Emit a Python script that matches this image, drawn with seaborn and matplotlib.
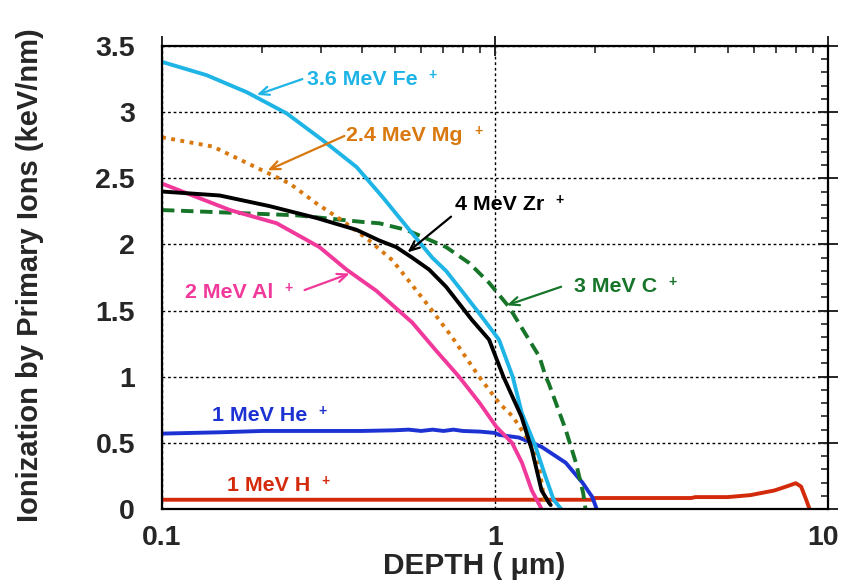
import matplotlib
matplotlib.use("Agg")
import matplotlib.pyplot as plt
from matplotlib.ticker import FixedLocator, FixedFormatter, MultipleLocator, LogLocator, NullFormatter
from matplotlib.transforms import ScaledTranslation
import seaborn as sns
import pandas as pd

# Ionization profiles (keV/nm) vs depth (um) for each primary ion
fe_depth = [0.1, 0.136, 0.18, 0.237, 0.303, 0.384, 0.459, 0.553, 0.648, 0.713, 0.80, 0.896, 1.028, 1.13, 1.204, 1.32, 1.42, 1.50, 1.58]
fe_ion = [3.38, 3.28, 3.15, 2.99, 2.79, 2.585, 2.36, 2.11, 1.90, 1.80, 1.64, 1.48, 1.28, 1.0, 0.725, 0.48, 0.24, 0.07, 0.0]

mg_depth = [0.1, 0.142, 0.2, 0.242, 0.291, 0.348, 0.419, 0.492, 0.541, 0.634, 0.743, 0.896, 1.03, 1.13, 1.26, 1.35, 1.40, 1.42]
mg_ion = [2.81, 2.74, 2.56, 2.46, 2.31, 2.18, 2.03, 1.88, 1.75, 1.53, 1.30, 1.0, 0.80, 0.70, 0.52, 0.35, 0.10, 0.02]

zr_depth = [0.1, 0.149, 0.21, 0.291, 0.384, 0.449, 0.505, 0.564, 0.634, 0.713, 0.852, 0.96, 1.06, 1.20, 1.29, 1.38, 1.45, 1.47]
zr_ion = [2.40, 2.37, 2.29, 2.20, 2.11, 2.03, 1.98, 1.90, 1.81, 1.68, 1.43, 1.28, 1.0, 0.70, 0.45, 0.14, 0.05, 0.03]

c_depth = [0.1, 0.16, 0.254, 0.40, 0.449, 0.541, 0.59, 0.713, 0.836, 0.96, 1.10, 1.23, 1.36, 1.42, 1.45, 1.63, 1.75, 1.84, 1.87]
c_ion = [2.26, 2.24, 2.22, 2.17, 2.16, 2.11, 2.07, 1.98, 1.86, 1.71, 1.53, 1.33, 1.15, 1.0, 0.95, 0.60, 0.35, 0.12, 0.0]

al_depth = [0.1, 0.16, 0.221, 0.297, 0.358, 0.44, 0.564, 0.664, 0.78, 0.90, 1.01, 1.125, 1.205, 1.29, 1.38]
al_ion = [2.46, 2.26, 2.16, 1.98, 1.81, 1.65, 1.41, 1.20, 1.0, 0.80, 0.62, 0.50, 0.35, 0.14, 0.0]

he_depth = [0.1, 0.15, 0.2, 0.3, 0.4, 0.5, 0.55, 0.6, 0.65, 0.7, 0.75, 0.8, 0.9, 1.0, 1.03, 1.18, 1.38, 1.63, 1.83, 1.96, 2.02]
he_ion = [0.57, 0.58, 0.59, 0.59, 0.59, 0.595, 0.60, 0.59, 0.60, 0.59, 0.60, 0.59, 0.585, 0.575, 0.56, 0.54, 0.47, 0.35, 0.20, 0.09, 0.0]

h_depth = [0.1, 0.5, 1.0, 1.5, 1.96, 2.0, 3.0, 3.88, 4.0, 5.0, 5.85, 6.9, 7.6, 8.0, 8.3, 8.6, 8.8]
h_ion = [0.07, 0.07, 0.07, 0.07, 0.07, 0.083, 0.083, 0.083, 0.09, 0.09, 0.105, 0.14, 0.175, 0.195, 0.17, 0.07, 0.0]

x_ticks = [0.1, 1, 10]
x_tick_labels = ["0.1", "1", "10"]
y_ticks = [0, 0.5, 1, 1.5, 2, 2.5, 3, 3.5]
y_tick_labels = ["0", "0.5", "1", "1.5", "2", "2.5", "3", "3.5"]

sns.set_style("white")
plt.rcParams["font.family"] = ["Liberation Sans", "DejaVu Sans"]
plt.rcParams["font.weight"] = "bold"

CYAN = "#1fb4e6"
ORANGE = "#d9780f"
BLACK = "#000000"
GREEN = "#17752a"
PINK = "#f0399a"
BLUE = "#1c32d2"
RED = "#d42a0c"

fig = plt.figure(figsize=(8.42, 5.83), dpi=100)
ax = fig.add_axes([162 / 842, 1 - 509 / 583, (828 - 162) / 842, (509 - 46) / 583])

series = [
    (h_depth, h_ion, RED, "-"),
    (he_depth, he_ion, BLUE, "-"),
    (c_depth, c_ion, GREEN, (0, (3.2, 1.7))),
    (al_depth, al_ion, PINK, "-"),
    (mg_depth, mg_ion, ORANGE, (0, (1, 1.4))),
    (fe_depth, fe_ion, CYAN, "-"),
    (zr_depth, zr_ion, BLACK, "-"),
]
for xs, ys, col, ls in series:
    df = pd.DataFrame({"depth": xs, "ion": ys})
    sns.lineplot(data=df, x="depth", y="ion", ax=ax, color=col, linestyle=ls,
                 linewidth=2.8, estimator=None, sort=False, dash_capstyle="butt")

ax.set_xscale("log")
ax.set_xlim(0.1, 10)
ax.set_ylim(0, 3.5)
ax.xaxis.set_major_locator(FixedLocator(x_ticks))
ax.xaxis.set_major_formatter(FixedFormatter(x_tick_labels))
ax.xaxis.set_minor_locator(LogLocator(base=10, subs=range(2, 10)))
ax.xaxis.set_minor_formatter(NullFormatter())
ax.yaxis.set_major_locator(FixedLocator(y_ticks))
ax.yaxis.set_major_formatter(FixedFormatter(y_tick_labels))
ax.yaxis.set_minor_locator(MultipleLocator(0.1))

ax.tick_params(which="major", direction="inout", length=15, width=1.4,
               top=True, right=True, labelsize=20.5)
ax.tick_params(which="minor", direction="in", length=5, width=1.2,
               top=True, right=True)
ax.tick_params(axis="y", which="major", pad=12)
ax.tick_params(axis="x", which="major", pad=4)
for lab in ax.get_xticklabels() + ax.get_yticklabels():
    lab.set_fontweight("bold")
# nudge the last depth label left so it stays inside the canvas
last = ax.xaxis.get_major_ticks()[-1].label1
last.set_transform(last.get_transform() + ScaledTranslation(-0.05, 0, fig.dpi_scale_trans))
for sp in ax.spines.values():
    sp.set_linewidth(1.6)
    sp.set_color("black")

ax.grid(True, which="major", color="black", linestyle=(0, (2, 2)), linewidth=1.0)
ax.set_axisbelow(True)

ax.set_xlabel("DEPTH ( \u03bcm)", fontsize=21.5, fontweight="bold")
ax.set_ylabel("Ionization by Primary Ions (keV/nm)", fontsize=21, fontweight="bold")
ax.xaxis.set_label_coords(0.469, -0.093)
ax.yaxis.set_label_coords(-0.177, 0.505)


def label(text, x, y, color, arrow_from=None, arrow_to=None):
    t = ax.text(x, y, text, color=color, fontsize=15.4, fontweight="bold",
                ha="left", va="center")
    ax.annotate("+", xy=(1, 1), xycoords=t, xytext=(11, -3.6), textcoords="offset points",
                color=color, fontsize=10, fontweight="bold", ha="center", va="center")
    if arrow_from is not None:
        ax.annotate("", xy=arrow_to, xytext=arrow_from,
                    arrowprops=dict(arrowstyle="->,head_length=0.7,head_width=0.3",
                                    color=color, lw=1.6, shrinkA=0, shrinkB=0))


label("3.6 MeV Fe", 0.272, 3.25, CYAN, (0.264, 3.25), (0.1925, 3.13))
label("2.4 MeV Mg", 0.358, 2.82, ORANGE, (0.353, 2.82), (0.2076, 2.56))
label("4 MeV Zr", 0.757, 2.30, BLACK, (0.738, 2.21), (0.546, 1.94))
label("3 MeV C", 1.73, 1.68, GREEN, (1.58, 1.68), (1.085, 1.54))
label("2 MeV Al", 0.117, 1.64, PINK, (0.268, 1.655), (0.366, 1.78))
label("1 MeV He", 0.141, 0.71, BLUE)
label("1 MeV H", 0.1565, 0.18, RED)

fig.savefig("out.png", dpi=100)
